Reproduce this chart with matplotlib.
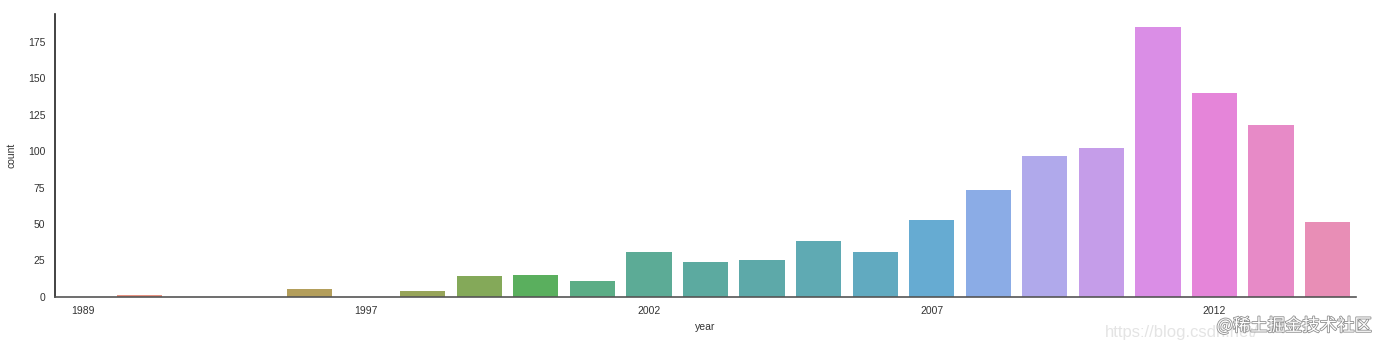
import matplotlib
matplotlib.use("Agg")
import matplotlib.pyplot as plt
import matplotlib.patheffects as pe
import seaborn as sns

years = [1989, 1990, 1992, 1994, 1996, 1997, 1998, 1999, 2000, 2001, 2002,
         2003, 2004, 2005, 2006, 2007, 2008, 2009, 2010, 2011, 2012, 2013, 2014]
counts = [0, 1, 0, 0, 5, 0, 4, 14, 15, 11, 31,
          24, 25, 38, 31, 53, 73, 97, 102, 185, 140, 118, 51]
tick_every = 5

sns.set_style("white")
plt.rcParams['font.family'] = ['Liberation Sans', 'DejaVu Sans']

fig = plt.figure(figsize=(13.86, 3.48), dpi=100)
ax = fig.add_axes([0.0397, 0.1474, 0.9386, 0.8124])

base = sns.color_palette("husl", len(years))
colors = [sns.desaturate(c, 0.75) for c in base]
pos = list(range(len(years)))
ax.bar(pos, counts, width=0.8, color=colors, edgecolor='none', alpha=0.87)

ax.set_xlim(-0.5, len(years) - 0.5)
ax.set_ylim(0, max(counts) * 1.05)
ax.set_xticks(pos[::tick_every])
ax.set_xticklabels([str(y) for y in years[::tick_every]])
ax.set_yticks([0, 25, 50, 75, 100, 125, 150, 175])
ax.tick_params(axis='both', labelsize=7.5, colors='#333333', length=0, pad=7)
ax.set_xlabel("year", fontsize=7.5, color='#333333', labelpad=4)
ax.set_ylabel("count", fontsize=7.5, color='#333333', labelpad=8)
for s in ['top', 'right']:
    ax.spines[s].set_visible(False)
ax.spines['left'].set_color('#222222')
ax.spines['bottom'].set_color('#555555')
ax.spines['left'].set_linewidth(1.2)
ax.spines['bottom'].set_linewidth(1.2)

fig.text(1105 / 1386, 1 - 340 / 348, "https://blog.csdn.net/", fontsize=12,
         color='#e4e4e4', ha='left', va='bottom')
fig.text(1372 / 1386, 1 - 335 / 348, "@稀土掘金技术社区", fontsize=12.5, color='#ffffff',
         family=['Noto Sans CJK SC', 'DejaVu Sans'], ha='right', va='bottom',
         path_effects=[pe.withStroke(linewidth=1.2, foreground='#8f8f8f')])

fig.savefig("out.png", dpi=100)
